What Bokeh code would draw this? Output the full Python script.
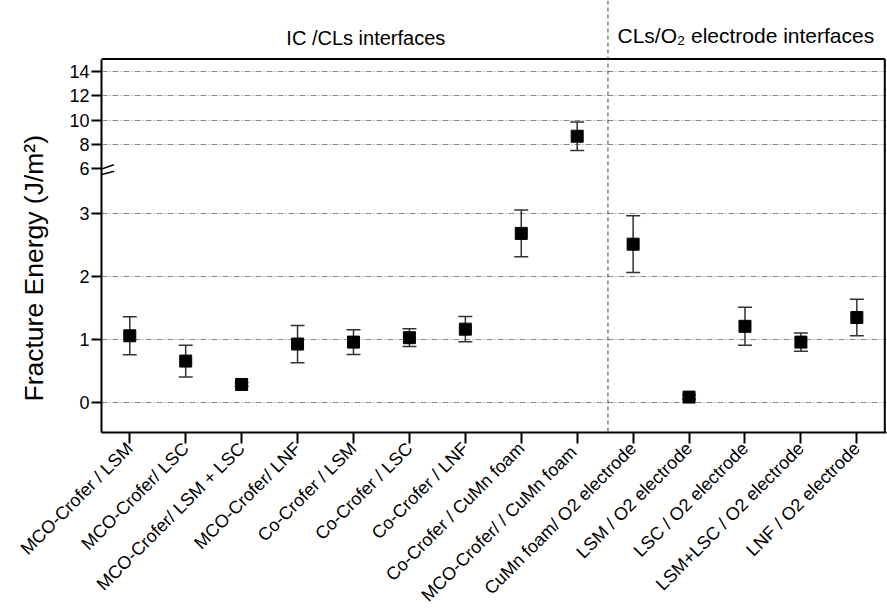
import math
from bokeh.plotting import figure
from bokeh.models import Range1d, FixedTicker, Grid, Span, Arrow, Title, ColumnDataSource
from bokeh.embed import file_html
from bokeh.resources import INLINE
from bokeh.core.properties import value

# ---------------- data ----------------
categories = [
    "MCO-Crofer / LSM", "MCO-Crofer/ LSC", "MCO-Crofer/ LSM + LSC", "MCO-Crofer/ LNF",
    "Co-Crofer / LSM", "Co-Crofer / LSC", "Co-Crofer / LNF", "Co-Crofer / CuMn foam",
    "MCO-Crofer/  / CuMn foam", "CuMn foam/ O2 electrode", "LSM / O2 electrode",
    "LSC / O2 electrode", "LSM+LSC / O2 electrode", "LNF / O2 electrode",
]
energy = [1.06, 0.66, 0.29, 0.93, 0.96, 1.03, 1.165, 2.68, 8.67, 2.51, 0.09, 1.21, 0.96, 1.35]
error = [0.30, 0.25, 0.03, 0.295, 0.195, 0.14, 0.20, 0.37, 1.16, 0.45, 0.03, 0.30, 0.145, 0.29]
lower_ticks = [0, 1, 2, 3]
upper_ticks = [6, 8, 10, 12, 14]
group_titles = ["IC /CLs interfaces", "CLs/O\u2082 electrode interfaces"]
group_divider = 9.55
break_value = 5
upper_top = 15
y_label = "Fracture Energy (J/m\u00b2)"

# ---------------- layout ----------------
FONT = "Liberation Sans"
W, H = 887, 615
FRAME_H = 432
LEFT, RIGHT = 100, 1
BOTTOM = H - FRAME_H
lo_ppu, up_ppu, x_ppu = 63.2, 12.2, 56.0
lo_start = -0.47
lo_end = lo_start + FRAME_H / lo_ppu
up_end = 14 + 70.7 / up_ppu
up_start = up_end - FRAME_H / up_ppu
x_start = 0.4946
x_end = x_start + (W - LEFT - RIGHT) / x_ppu


def to_lower(v):
    return lo_start + (v - up_start) * (lo_end - lo_start) / (up_end - up_start)


p = figure(width=W, height=H, x_range=Range1d(x_start, x_end), y_range=Range1d(lo_start, lo_end),
           output_backend="svg", toolbar_location=None,
           min_border_left=LEFT, min_border_right=RIGHT, min_border_top=0, min_border_bottom=BOTTOM)
p.extra_y_ranges = {"upper": Range1d(up_start, up_end)}
p.outline_line_color = None
p.background_fill_color = "white"
p.border_fill_color = "white"

# grids
p.xgrid.visible = False
p.ygrid.ticker = FixedTicker(ticks=lower_ticks)
p.ygrid.grid_line_color = "#8a8a8a"
p.ygrid.grid_line_dash = "6 2 1 2"
p.ygrid.grid_line_width = 1
g2 = Grid(dimension=1, ticker=FixedTicker(ticks=[t for t in upper_ticks if t > upper_ticks[0]]),
          y_range_name="upper", grid_line_color="#8a8a8a", grid_line_dash="6 2 1 2", grid_line_width=1)
p.add_layout(g2)

# y axis (broken)
up_pos = [round(to_lower(v), 5) for v in upper_ticks]
yt = lower_ticks + up_pos
overrides = {t: str(t) for t in lower_ticks}
overrides.update({pos: str(v) for pos, v in zip(up_pos, upper_ticks)})
yax = p.yaxis[0]
yax.ticker = FixedTicker(ticks=yt)
yax.major_label_overrides = overrides
yax.bounds = (lo_start, to_lower(upper_top))
yax.axis_line_width = 2
yax.major_tick_line_width = 2
yax.major_tick_out = 10
yax.major_tick_in = 0
yax.minor_tick_line_color = None
yax.major_label_text_font = FONT
yax.major_label_text_font_size = "18px"
yax.major_label_text_color = "black"
yax.major_label_standoff = 2

# y axis title
p.add_layout(Title(text=y_label, align="left", offset=31, vertical_align="middle",
                   text_font=FONT, text_font_size="26.5px", text_font_style="normal",
                   text_color="black", standoff=34), "left")

# x axis
xs = list(range(1, len(categories) + 1))
xax = p.xaxis[0]
xax.ticker = FixedTicker(ticks=xs)
xax.major_label_overrides = {i: c for i, c in zip(xs, categories)}
xax.major_label_orientation = math.pi / 4
xax.axis_line_width = 2
xax.major_tick_line_width = 2
xax.major_tick_out = 11
xax.major_tick_in = 0
xax.minor_tick_line_color = None
xax.major_label_text_font = FONT
xax.major_label_text_font_size = "18px"
xax.major_label_text_color = "black"
xax.major_label_standoff = 2

# frame box (top and right)
p.segment(x0=[x_start, 14.5], y0=[upper_top, up_start], x1=[14.5, 14.5], y1=[upper_top, upper_top],
          y_range_name="upper", line_color="black", line_width=2)

# group divider
p.add_layout(Span(location=group_divider, dimension="height", line_color="#444444",
                  line_dash="4 3", line_width=1))

# data
for rng, keep in (("default", lambda v: v < break_value), ("upper", lambda v: v >= break_value)):
    idx = [i for i, v in enumerate(energy) if keep(v)]
    src = ColumnDataSource(dict(
        x=[xs[i] for i in idx],
        y=[energy[i] for i in idx],
        lo=[energy[i] - error[i] for i in idx],
        hi=[energy[i] + error[i] for i in idx],
    ))
    p.segment("x", "lo", "x", "hi", source=src, y_range_name=rng, line_color="#333333", line_width=1.5)
    p.scatter("x", "lo", source=src, y_range_name=rng, marker="dash", size=14,
              line_color="#333333", line_width=1.5)
    p.scatter("x", "hi", source=src, y_range_name=rng, marker="dash", size=14,
              line_color="#333333", line_width=1.5)
    p.scatter("x", "y", source=src, y_range_name=rng, marker="square", size=12,
              fill_color="black", line_color="black")

# group titles
p.text(x=[3.80, 9.72], y=[16.76, 16.90], text=group_titles, y_range_name="upper",
       text_font=value(FONT), text_font_size=["20px", "21px"], text_align="left",
       text_baseline="alphabetic", text_color="black")

# axis break marks
for (xa, ya, xb, yb) in ((0.303, 3.639, 0.714, 3.766), (0.286, 3.560, 0.721, 3.664)):
    p.add_layout(Arrow(end=None, x_start=xa, y_start=ya, x_end=xb, y_end=yb,
                       line_color="black", line_width=1.5))

open("out.html", "w").write(file_html(p, INLINE))
